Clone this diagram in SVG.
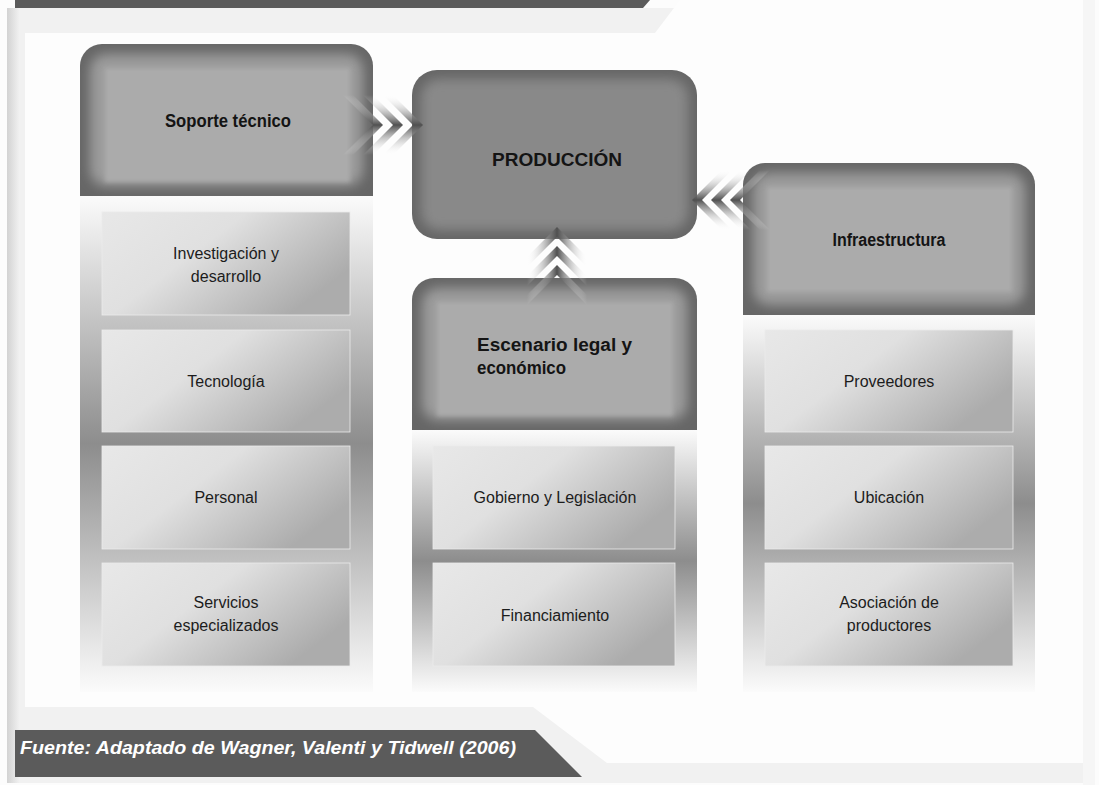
<svg xmlns="http://www.w3.org/2000/svg" width="1099" height="785" viewBox="0 0 1099 785">
  <defs>
    <style>
      .lbl { font-family: "Liberation Sans", Arial, sans-serif; font-size: 16px; fill: #1c1c1c; text-anchor: middle; }
      .hdr { font-family: "Liberation Sans", Arial, sans-serif; font-size: 18px; font-weight: bold; fill: #141414; }
      .mid { text-anchor: middle; }
      .base { fill: #666666; }
      .ring { fill: #9c9c9c; filter: url(#soft); }
      .core { fill: #ababab; filter: url(#softer); }
      .col { fill: url(#colGrad); }
      .item { fill: url(#itemGrad); stroke: #ececec; stroke-width: 0.8; }
      .chev-r { fill: url(#chevV); }
      .chev-u { fill: url(#chevH); }
    </style>
    <filter id="soft" x="-20%" y="-20%" width="140%" height="140%">
      <feGaussianBlur stdDeviation="6"/>
    </filter>
    <filter id="softer" x="-10%" y="-10%" width="120%" height="120%">
      <feGaussianBlur stdDeviation="2"/>
    </filter>
    <linearGradient id="colGrad" x1="0" y1="0" x2="0" y2="1">
      <stop offset="0" stop-color="#fbfbfb"/>
      <stop offset="0.5" stop-color="#8d8d8d"/>
      <stop offset="0.93" stop-color="#ececec"/>
      <stop offset="1" stop-color="#fbfbfb"/>
    </linearGradient>
    <linearGradient id="itemGrad" x1="0" y1="0" x2="1" y2="0.55">
      <stop offset="0" stop-color="#e8e8e8"/>
      <stop offset="0.45" stop-color="#e0e0e0"/>
      <stop offset="1" stop-color="#acacac"/>
    </linearGradient>
    <linearGradient id="chevV" x1="0" y1="0" x2="0" y2="1">
      <stop offset="0" stop-color="#ffffff" stop-opacity="0"/>
      <stop offset="0.5" stop-color="#505050" stop-opacity="1"/>
      <stop offset="1" stop-color="#ffffff" stop-opacity="0"/>
    </linearGradient>
    <linearGradient id="chevH" x1="0" y1="0" x2="1" y2="0">
      <stop offset="0" stop-color="#ffffff" stop-opacity="0"/>
      <stop offset="0.5" stop-color="#505050" stop-opacity="1"/>
      <stop offset="1" stop-color="#ffffff" stop-opacity="0"/>
    </linearGradient>
    <linearGradient id="edgeL" x1="0" y1="0" x2="1" y2="0">
      <stop offset="0" stop-color="#d2d2d2"/>
      <stop offset="1" stop-color="#f0f0f0"/>
    </linearGradient>
    <path id="shpSoporte" d="M80,196 V66 A22,22 0 0 1 102,44 H351 A22,22 0 0 1 373,66 V196 Z"/>
    <path id="shpEscenario" d="M412,430 V300 A22,22 0 0 1 434,278 H675 A22,22 0 0 1 697,300 V430 Z"/>
    <path id="shpInfra" d="M743,315 V185 A22,22 0 0 1 765,163 H1013 A22,22 0 0 1 1035,185 V315 Z"/>
    <rect id="shpProd" x="412" y="70" width="285" height="169" rx="25"/>
    <clipPath id="clipSoporte"><use href="#shpSoporte"/></clipPath>
    <clipPath id="clipEscenario"><use href="#shpEscenario"/></clipPath>
    <clipPath id="clipInfra"><use href="#shpInfra"/></clipPath>
    <clipPath id="clipProd"><use href="#shpProd"/></clipPath>
  </defs>

  <!-- page frame -->
  <g id="frame">
    <rect x="0" y="0" width="1099" height="785" fill="#fcfcfc"/>
    <rect x="7" y="8" width="1088" height="775" fill="#f1f1f1"/>
    <rect x="7" y="8" width="12" height="775" fill="url(#edgeL)"/>
    <polygon points="25,33 655,33 680,0 1083,0 1083,763 607,763 533,707 25,707" fill="#fdfdfd"/>
    <rect x="1083" y="0" width="12" height="785" fill="#f6f6f6"/>
    <polygon points="15,0 650,0 643,8 15,8" fill="#5b5b5b"/>
    <polygon points="15,730 535,730 582,777 15,777" fill="#5b5b5b"/>
    <text x="20" y="754" font-family="Liberation Sans, Arial, sans-serif" font-size="19" font-weight="bold" font-style="italic" fill="#ffffff" textLength="496" lengthAdjust="spacingAndGlyphs">Fuente: Adaptado de Wagner, Valenti y Tidwell (2006)</text>
  </g>

  <!-- left column: Soporte técnico -->
  <g id="col-soporte">
    <rect class="col" x="80" y="196" width="293" height="496"/>
    <rect class="item" x="102" y="212" width="248" height="103"/>
    <rect class="item" x="102" y="330" width="248" height="102"/>
    <rect class="item" x="102" y="446" width="248" height="103"/>
    <rect class="item" x="102" y="563" width="248" height="103"/>
    <text class="lbl" x="226" y="259">Investigación y</text>
    <text class="lbl" x="226" y="282">desarrollo</text>
    <text class="lbl" x="226" y="387">Tecnología</text>
    <text class="lbl" x="226" y="503">Personal</text>
    <text class="lbl" x="226" y="608">Servicios</text>
    <text class="lbl" x="226" y="631">especializados</text>
  </g>
  <g id="node-soporte">
    <use href="#shpSoporte" class="base"/>
    <g clip-path="url(#clipSoporte)">
      <rect class="ring" x="90" y="54" width="273" height="132" rx="16"/>
    </g>
    <rect class="core" x="105" y="68" width="245" height="114"/>
    <text class="hdr mid" x="228" y="127" textLength="126" lengthAdjust="spacingAndGlyphs">Soporte técnico</text>
  </g>

  <!-- centre: PRODUCCIÓN -->
  <g id="node-produccion">
    <use href="#shpProd" class="base"/>
    <g clip-path="url(#clipProd)">
      <rect x="421" y="79" width="267" height="151" rx="18" fill="#898989" filter="url(#soft)"/>
    </g>
    <text class="hdr mid" x="557" y="166" font-size="23" textLength="130" lengthAdjust="spacingAndGlyphs">PRODUCCIÓN</text>
  </g>

  <!-- centre column: Escenario legal y económico -->
  <g id="col-escenario">
    <rect class="col" x="412" y="430" width="285" height="262"/>
    <rect class="item" x="433" y="446" width="242" height="103"/>
    <rect class="item" x="433" y="563" width="242" height="103"/>
    <text class="lbl" x="555" y="503">Gobierno y Legislación</text>
    <text class="lbl" x="555" y="621">Financiamiento</text>
  </g>
  <g id="node-escenario">
    <use href="#shpEscenario" class="base"/>
    <g clip-path="url(#clipEscenario)">
      <rect class="ring" x="422" y="288" width="265" height="132" rx="16"/>
    </g>
    <rect class="core" x="437" y="302" width="236" height="114"/>
    <text class="hdr" x="477" y="351" textLength="155" lengthAdjust="spacingAndGlyphs">Escenario legal y</text>
    <text class="hdr" x="477" y="374" textLength="89" lengthAdjust="spacingAndGlyphs">económico</text>
  </g>

  <!-- right column: Infraestructura -->
  <g id="col-infra">
    <rect class="col" x="743" y="315" width="292" height="377"/>
    <rect class="item" x="765" y="330" width="248" height="102"/>
    <rect class="item" x="765" y="446" width="248" height="103"/>
    <rect class="item" x="765" y="563" width="248" height="103"/>
    <text class="lbl" x="889" y="387">Proveedores</text>
    <text class="lbl" x="889" y="503">Ubicación</text>
    <text class="lbl" x="889" y="608">Asociación de</text>
    <text class="lbl" x="889" y="631">productores</text>
  </g>
  <g id="node-infra">
    <use href="#shpInfra" class="base"/>
    <g clip-path="url(#clipInfra)">
      <rect class="ring" x="753" y="173" width="272" height="132" rx="16"/>
    </g>
    <rect class="core" x="767" y="187" width="245" height="105"/>
    <text class="hdr mid" x="889" y="246" textLength="113" lengthAdjust="spacingAndGlyphs">Infraestructura</text>
  </g>

  <!-- chevron connectors into PRODUCCIÓN -->
  <g id="connectors">
    <!-- from Soporte técnico (pointing right) -->
    <polygon class="chev-r" points="343,95 353,95 383,125 353,155 343,155 373,125"/>
    <polygon class="chev-r" points="363,95 373,95 403,125 373,155 363,155 393,125"/>
    <polygon class="chev-r" points="383,95 393,95 423,125 393,155 383,155 413,125"/>
    <!-- from Escenario (pointing up) -->
    <polygon class="chev-u" points="527,257 527,267 557,237 587,267 587,257 557,227"/>
    <polygon class="chev-u" points="527,276 527,286 557,256 587,286 587,276 557,246"/>
    <polygon class="chev-u" points="527,295 527,305 557,275 587,305 587,295 557,265"/>
    <!-- from Infraestructura (pointing left) -->
    <polygon class="chev-r" points="722,170 732,170 702,200 732,230 722,230 692,200"/>
    <polygon class="chev-r" points="741,170 751,170 721,200 751,230 741,230 711,200"/>
    <polygon class="chev-r" points="760,170 770,170 740,200 770,230 760,230 730,200"/>
  </g>
</svg>
